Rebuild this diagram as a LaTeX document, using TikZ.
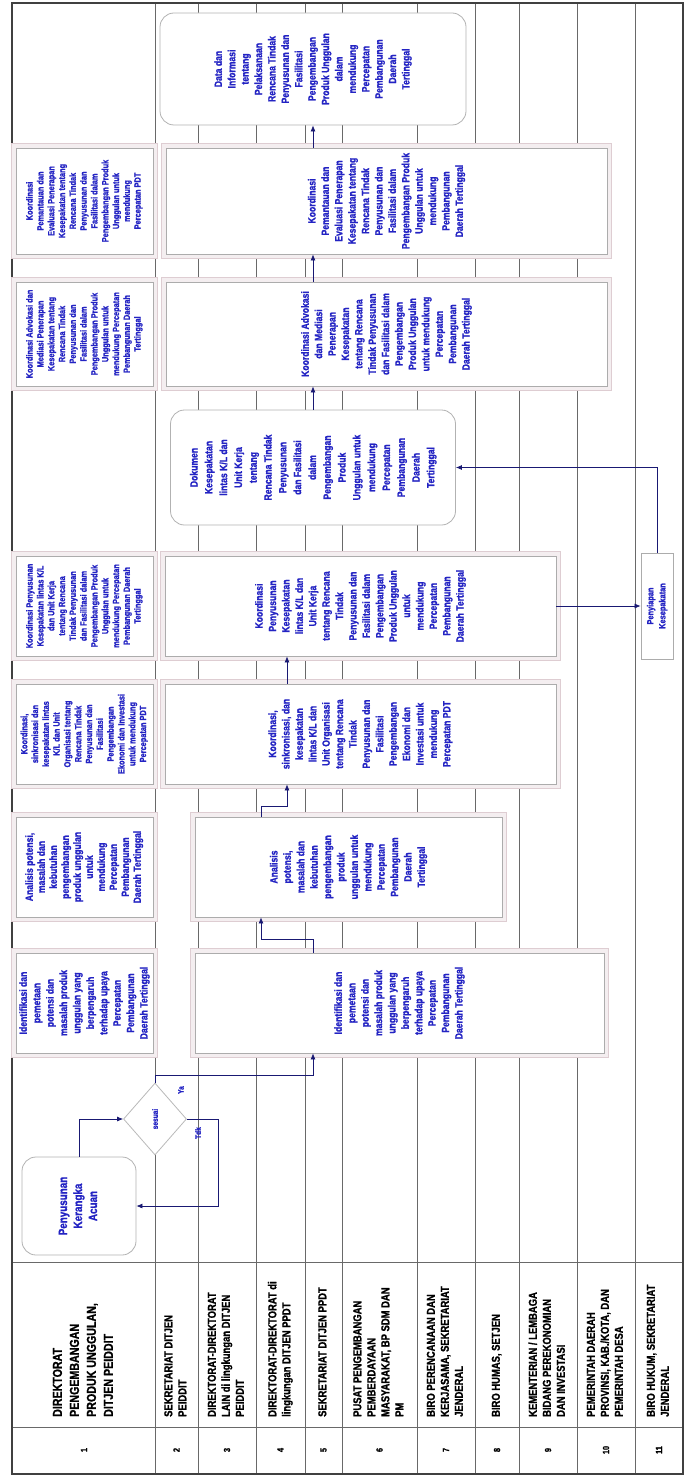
\documentclass[tikz,border=0pt]{standalone}
\usepackage{graphicx}
\usepackage{fontspec}
\newfontfamily\narrowsf[FakeStretch=0.82,BoldFont={Liberation Sans Bold},
  BoldFeatures={FakeStretch=0.82,FakeBold=1.2}]{Liberation Sans}
\definecolor{flowblue}{RGB}{35,35,195}
\definecolor{flownavy}{RGB}{25,25,115}
\definecolor{lanegray}{RGB}{105,105,105}
\definecolor{frameband}{RGB}{244,238,240}
\definecolor{frameouter}{RGB}{222,205,210}
\usetikzlibrary{arrows.meta,positioning,shapes.geometric,calc}
\newcommand{\boxfont}{\narrowsf\bfseries\fontsize{10.5}{13.4}\selectfont}
\newcommand{\notefont}{\narrowsf\bfseries\fontsize{9}{10.8}\selectfont}
\newcommand{\headfont}{\narrowsf\bfseries\fontsize{11.5}{14}\selectfont}
\newcommand{\numfont}{\narrowsf\bfseries\fontsize{9}{11}\selectfont}
\newcommand{\tagfont}{\narrowsf\bfseries\fontsize{8}{9}\selectfont}
\newcommand{\turncol}[1]{\rotatebox{90}{\begin{tabular}{@{}c@{}}#1\end{tabular}}}
\newcommand{\turnleft}[1]{\rotatebox{90}{\begin{tabular}{@{}l@{}}#1\end{tabular}}}

\begin{document}
\begin{tikzpicture}[x=1pt,y=-1pt,
  lanerule/.style={draw=lanegray,line width=0.7pt},
  procbox/.style={draw=gray!65,line width=0.8pt,fill=white,inner sep=0pt,text=flowblue,
    font=\boxfont,preaction={draw=frameouter,line width=10pt},
    preaction={draw=frameband,line width=8pt}},
  notebox/.style={procbox,font=\notefont},
  endbox/.style={draw=gray!60,line width=0.8pt,fill=white,rounded corners=14pt,
    inner sep=0pt,text=flowblue,font=\boxfont},
  decision/.style={diamond,aspect=0.9,draw=gray!55,line width=0.8pt,fill=white,
    inner sep=0pt,text=flowblue,font=\tagfont},
  flow/.style={draw=flownavy,line width=0.7pt,-{Latex[length=6pt,width=5pt]}},
  lanehead/.style={anchor=south,inner sep=0pt,font=\headfont},
  lanenum/.style={inner sep=0pt,font=\numfont},
  answer/.style={inner sep=0pt,text=flowblue,font=\tagfont}]
  \useasboundingbox (0,0) rectangle (687,1479);

  % swimlanes
  \foreach \lx in {155,198,256,305,342,417,475,519,577,635}
    \draw[lanerule] (\lx,3) -- (\lx,1474);
  \draw[lanerule] (12,1262) -- (683,1262);
  \draw[lanerule] (12,1427) -- (683,1427);
  \draw[line width=1.3pt,draw=black!75] (12,3) rectangle (683,1474);

  % lane names
  \node[lanehead,font=\narrowsf\bfseries\fontsize{13}{17}\selectfont] (head1) at (84,1417)
    {\turnleft{DIREKTORAT\\PENGEMBANGAN\\PRODUK UNGGULAN,\\DITJEN PEIDDIT}};
  \node[lanehead] (head2) at (176.5,1417) {\turnleft{SEKRETARIAT DITJEN\\PEIDDIT}};
  \node[lanehead] (head3) at (227,1417) {\turnleft{DIREKTORAT-DIREKTORAT\\LAIN di lingkungan DITJEN\\PEIDDIT}};
  \node[lanehead] (head4) at (280.5,1417) {\turnleft{DIREKTORAT-DIREKTORAT di\\lingkungan DITJEN PPDT}};
  \node[lanehead] (head5) at (323.5,1417) {\turnleft{SEKRETARIAT DITJEN PPDT}};
  \node[lanehead] (head6) at (379.5,1417) {\turnleft{PUSAT PENGEMBANGAN\\PEMBERDAYAAN\\MASYARAKAT, BP SDM DAN\\PM}};
  \node[lanehead] (head7) at (446,1417) {\turnleft{BIRO PERENCANAAN DAN\\KERJASAMA, SEKRETARIAT\\JENDERAL}};
  \node[lanehead] (head8) at (497,1417) {\turnleft{BIRO HUMAS, SETJEN}};
  \node[lanehead] (head9) at (548,1417) {\turnleft{KEMENTERIAN / LEMBAGA\\BIDANG PEREKONOMIAN\\DAN INVESTASI}};
  \node[lanehead] (head10) at (606,1417) {\turnleft{PEMERINTAH DAERAH\\PROVINSI, KAB./KOTA, DAN\\PEMERINTAH DESA}};
  \node[lanehead] (head11) at (659,1417) {\turnleft{BIRO HUKUM, SEKRETARIAT\\JENDERAL}};
  \foreach \n/\lx in {1/84,2/176.5,3/227,4/280.5,5/323.5,6/379.5,7/446,8/497,9/548,10/606,11/659}
    \node[lanenum] (num\n) at (\lx,1450) {\rotatebox{90}{\n}};

  % flow
  \node[endbox,font=\narrowsf\bfseries\fontsize{12}{15}\selectfont,
    minimum width=114,minimum height=98] (acuan) at (79,1206)
    {\turncol{Penyusunan\\Kerangka\\Acuan}};
  \node[decision,minimum width=63,minimum height=72] (sesuai) at (155,1119) {\rotatebox{90}{sesuai}};
  \node[answer] (ya) at (181,1090) {\rotatebox{90}{Ya}};
  \node[answer] (tdk) at (198,1133) {\rotatebox{90}{Tdk}};

  \node[procbox,minimum width=409,minimum height=100] (identifikasi) at (399.5,1003)
    {\turncol{Identifikasi dan\\pemetaan\\potensi dan\\masalah produk\\unggulan yang\\berpengaruh\\terhadap upaya\\Percepatan\\Pembangunan\\Daerah Tertinggal}};
  \node[procbox,minimum width=137,minimum height=100] (identifikasiket) at (84.5,1003)
    {\turncol{Identifikasi dan\\pemetaan\\potensi dan\\masalah produk\\unggulan yang\\berpengaruh\\terhadap upaya\\Percepatan\\Pembangunan\\Daerah Tertinggal}};

  \node[procbox,minimum width=307,minimum height=100] (analisis) at (348.5,867)
    {\turncol{Analisis\\potensi,\\masalah dan\\kebutuhan\\pengembangan\\produk\\unggulan untuk\\mendukung\\Percepatan\\Pembangunan\\Daerah\\Tertinggal}};
  \node[procbox,minimum width=137,minimum height=100,font=\narrowsf\bfseries\fontsize{10.5}{12}\selectfont] (analisisket) at (84.5,867)
    {\turncol{Analisis potensi,\\masalah dan\\kebutuhan\\pengembangan\\produk unggulan\\untuk\\mendukung\\Percepatan\\Pembangunan\\Daerah Tertinggal}};

  \node[procbox,minimum width=391,minimum height=100] (sinkron) at (360.5,734)
    {\turncol{Koordinasi,\\sinkronisasi, dan\\kesepakatan\\lintas K/L dan\\Unit Organisasi\\tentang Rencana\\Tindak\\Penyusunan dan\\Fasilitasi\\Pengembangan\\Ekonomi dan\\Investasi untuk\\mendukung\\Percepatan PDT}};
  \node[notebox,minimum width=137,minimum height=100] (sinkronket) at (84.5,734)
    {\turncol{Koordinasi,\\sinkronisasi dan\\kesepakatan lintas\\K/L dan Unit\\Organisasi tentang\\Rencana Tindak\\Penyusunan dan\\Fasilitasi\\Pengembangan\\Ekonomi dan Investasi\\untuk mendukung\\Percepatan PDT}};

  \node[procbox,minimum width=391,minimum height=100] (sepakat) at (360.5,606)
    {\turncol{Koordinasi\\Penyusunan\\Kesepakatan\\lintas K/L dan\\Unit Kerja\\tentang Rencana\\Tindak\\Penyusunan dan\\Fasilitasi dalam\\Pengembangan\\Produk Unggulan\\untuk\\mendukung\\Percepatan\\Pembangunan\\Daerah Tertinggal}};
  \node[notebox,minimum width=137,minimum height=100] (sepakatket) at (84.5,606)
    {\turncol{Koordinasi Penyusunan\\Kesepakatan lintas K/L\\dan Unit Kerja\\tentang Rencana\\Tindak Penyusunan\\dan Fasilitasi dalam\\Pengembangan Produk\\Unggulan untuk\\mendukung Percepatan\\Pembangunan Daerah\\Tertinggal}};

  \node[draw=gray!65,line width=0.8pt,fill=white,inner sep=0pt,text=flowblue,
    font=\narrowsf\bfseries\fontsize{9}{12}\selectfont,
    minimum width=32,minimum height=106] (siap) at (657,606)
    {\turncol{Penyiapan\\Kesepakatan}};

  \node[endbox,font=\narrowsf\bfseries\fontsize{10.5}{14.8}\selectfont,
    minimum width=285,minimum height=115] (dokumen) at (313,467.5)
    {\turncol{Dokumen\\Kesepakatan\\lintas K/L dan\\Unit Kerja\\tentang\\Rencana Tindak\\Penyusunan\\dan Fasilitasi\\dalam\\Pengembangan\\Produk\\Unggulan untuk\\mendukung\\Percepatan\\Pembangunan\\Daerah\\Tertinggal}};

  \node[procbox,minimum width=441,minimum height=104] (advokasi) at (386.5,334)
    {\turncol{Koordinasi Advokasi\\dan Mediasi\\Penerapan\\Kesepakatan\\tentang Rencana\\Tindak Penyusunan\\dan Fasilitasi dalam\\Pengembangan\\Produk Unggulan\\untuk mendukung\\Percepatan\\Pembangunan\\Daerah Tertinggal}};
  \node[notebox,minimum width=137,minimum height=104] (advokasiket) at (84.5,334)
    {\turncol{Koordinasi Advokasi dan\\Mediasi Penerapan\\Kesepakatan tentang\\Rencana Tindak\\Penyusunan dan\\Fasilitasi dalam\\Pengembangan Produk\\Unggulan untuk\\mendukung Percepatan\\Pembangunan Daerah\\Tertinggal}};

  \node[procbox,minimum width=441,minimum height=106] (monev) at (386.5,201)
    {\turncol{Koordinasi\\Pemantauan dan\\Evaluasi Penerapan\\Kesepakatan tentang\\Rencana Tindak\\Penyusunan dan\\Fasilitasi dalam\\Pengembangan Produk\\Unggulan untuk\\mendukung\\Pembangunan\\Daerah Tertinggal}};
  \node[notebox,minimum width=137,minimum height=106] (monevket) at (84.5,201)
    {\turncol{Koordinasi\\Pemantauan dan\\Evaluasi Penerapan\\Kesepakatan tentang\\Rencana Tindak\\Penyusunan dan\\Fasilitasi dalam\\Pengembangan Produk\\Unggulan untuk\\mendukung\\Percepatan PDT}};

  \node[endbox,minimum width=306,minimum height=112] (data) at (313,69)
    {\turncol{Data dan\\Informasi\\tentang\\Pelaksanaan\\Rencana Tindak\\Penyusunan dan\\Fasilitasi\\Pengembangan\\Produk Unggulan\\dalam\\mendukung\\Percepatan\\Pembangunan\\Daerah\\Tertinggal}};

  % connectors
  \coordinate (colA) at (313,1075);
  \coordinate (colB) at (261,939);
  \coordinate (colC) at (287,806);
  \draw[flow] (acuan.north) |- (sesuai.west);
  \draw[flow] (sesuai.north) |- (colA) -- (colA |- identifikasi.south);
  \draw[flow] (sesuai.east) -- ++(31,0) |- (acuan.east);
  \draw[flow] (identifikasi.north -| colA) |- (colB) -- (colB |- analisis.south);
  \draw[flow] (analisis.north -| colB) |- (colC) -- (colC |- sinkron.south);
  \draw[flow] (sinkron.north -| colC) -- (sepakat.south -| colC);
  \draw[flow] (sepakat.east) -- (siap.west);
  \draw[flow] (siap.north) |- (dokumen.east);
  \draw[flow] (dokumen.north) -- (advokasi.south -| dokumen.north);
  \draw[flow] (advokasi.north -| dokumen.north) -- (monev.south -| dokumen.north);
  \draw[flow] (monev.north -| data.south) -- (data.south);
\end{tikzpicture}
\end{document}
